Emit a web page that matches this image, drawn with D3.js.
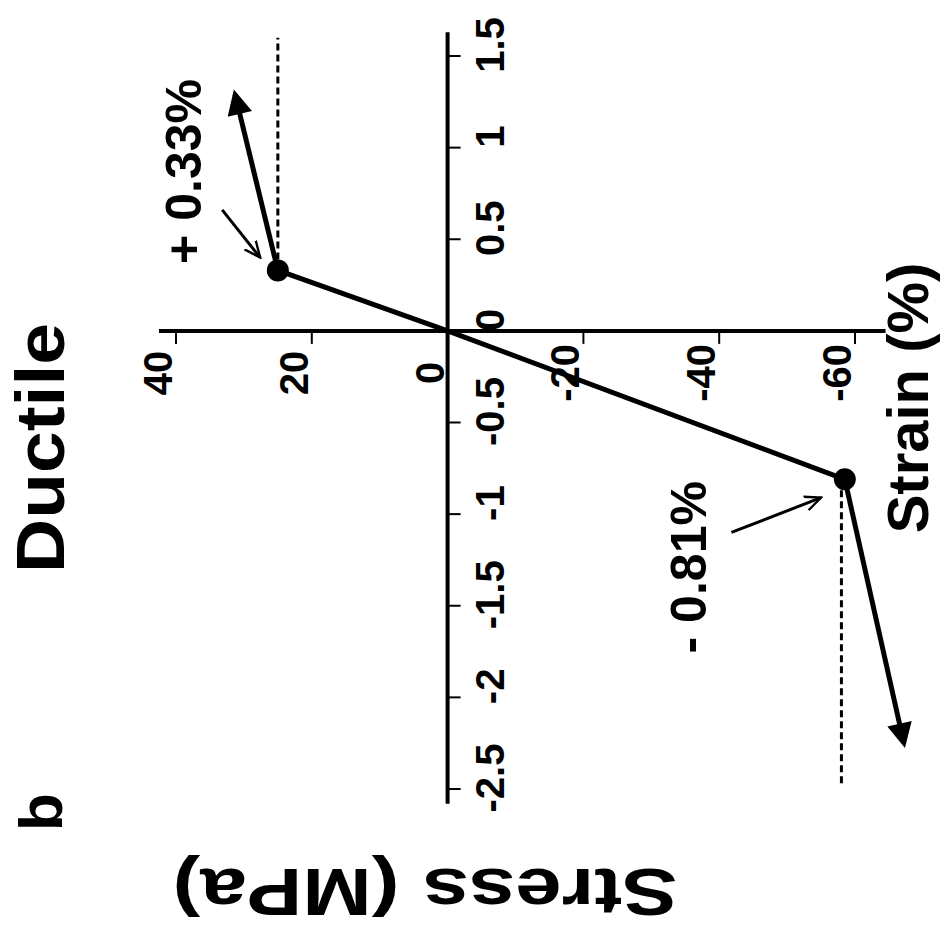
<!DOCTYPE html>
<html>
<head>
<meta charset="utf-8">
<script src="https://cdn.jsdelivr.net/npm/d3@7"></script>
<style>
body {margin: 0; background: #fff;}
svg text {font-family: "Liberation Sans", Arial, sans-serif; font-weight: bold; fill: #000;}
</style>
</head>
<body>
<div id="plot"></div>
<script>
//data - figure is drawn rotated, strain runs up the page, stress runs right-to-left
var strainTicks = [-2.5, -2, -1.5, -1, -0.5, 0, 0.5, 1, 1.5];
var stressTicks = [40, 20, 0, -20, -40, -60];
var lineStress = [25, 0, -58.5];
var lineStrain = [0.33, 0, -0.81];
var arrowUp = {stress: [25, 31.3], strain: [0.33, 1.29]};
var arrowDown = {stress: [-58.5, -67.2], strain: [-0.81, -2.25]};
var dashUp = {stress: [25, 25], strain: [0.33, 1.6]};
var dashDown = {stress: [-58, -58], strain: [-0.81, -2.48]};
var notes = [
    {label: "+ 0.33%", stress: 38.8, strain: 0.87, from: [33.2, 0.66], to: [27.6, 0.40]},
    {label: "- 0.81%", stress: -35.6, strain: -1.29, from: [-41.8, -1.10], to: [-55.0, -0.91]}
];

var W = 945, H = 940;
var svg = d3.select('#plot')
    .append('svg')
    .attr('width', W)
    .attr('height', H);

//scales
var scaleX = d3.scaleLinear().domain([40, -60]).range([176, 855]);   // stress
var scaleY = d3.scaleLinear().domain([-2.5, 1.5]).range([789, 56]);  // strain

var defs = svg.append('defs');
defs.append('marker')
    .attr('id', 'head')
    .attr('viewBox', '0 0 10 10')
    .attr('refX', 8).attr('refY', 5)
    .attr('markerWidth', 5.5).attr('markerHeight', 5)
    .attr('markerUnits', 'strokeWidth')
    .attr('orient', 'auto')
    .append('path')
    .attr('d', 'M0,0 L10,5 L0,10 z')
    .attr('fill', '#000');
defs.append('marker')
    .attr('id', 'open')
    .attr('viewBox', '0 0 10 10')
    .attr('refX', 9).attr('refY', 5)
    .attr('markerWidth', 6).attr('markerHeight', 6)
    .attr('markerUnits', 'strokeWidth')
    .attr('orient', 'auto')
    .append('path')
    .attr('d', 'M0,1 L9,5 L0,9')
    .attr('fill', 'none')
    .attr('stroke', '#000')
    .attr('stroke-width', 1.3);

//axes - strain axis vertical at stress = 0, stress axis horizontal at strain = 0
var axisStrain = svg.append('g').attr('class', 'axis-strain');
axisStrain.append('line')
    .attr('x1', scaleX(0)).attr('x2', scaleX(0))
    .attr('y1', scaleY(1.63)).attr('y2', scaleY(-2.58))
    .attr('stroke', '#000').attr('stroke-width', 4);
axisStrain.selectAll('.tick')
    .data(strainTicks)
    .enter()
    .append('line')
    .attr('class', 'tick')
    .attr('x1', scaleX(0)).attr('x2', scaleX(0) + 13)
    .attr('y1', function(d) { return scaleY(d); })
    .attr('y2', function(d) { return scaleY(d); })
    .attr('stroke', '#000').attr('stroke-width', 2);
axisStrain.selectAll('.lab')
    .data(strainTicks)
    .enter()
    .append('text')
    .attr('class', 'lab')
    .attr('transform', function(d) { return 'translate(' + (scaleX(0) + 42) + ',' + (scaleY(d) - 11) + ') rotate(-90)'; })
    .attr('text-anchor', 'middle')
    .attr('dominant-baseline', 'central')
    .style('font-size', '40px')
    .text(function(d) { return d; });

var axisStress = svg.append('g').attr('class', 'axis-stress');
axisStress.append('line')
    .attr('x1', scaleX(42.5)).attr('x2', scaleX(-64.5))
    .attr('y1', scaleY(0)).attr('y2', scaleY(0))
    .attr('stroke', '#000').attr('stroke-width', 4);
axisStress.selectAll('.tick')
    .data(stressTicks.filter(function(d) { return d !== 0; }))
    .enter()
    .append('line')
    .attr('class', 'tick')
    .attr('x1', function(d) { return scaleX(d); })
    .attr('x2', function(d) { return scaleX(d); })
    .attr('y1', scaleY(0)).attr('y2', scaleY(0) + 13)
    .attr('stroke', '#000').attr('stroke-width', 2);
axisStress.selectAll('.lab')
    .data(stressTicks)
    .enter()
    .append('text')
    .attr('class', 'lab')
    .attr('transform', function(d) { return 'translate(' + (scaleX(d) - 18) + ',' + (scaleY(0) + 42) + ') rotate(-90)'; })
    .attr('text-anchor', 'middle')
    .attr('dominant-baseline', 'central')
    .style('font-size', '40px')
    .text(function(d) { return d; });

//dashed guides
var guide = d3.line()
    .x(function(d) { return scaleX(d[0]); })
    .y(function(d) { return scaleY(d[1]); });
[dashUp, dashDown].forEach(function(g) {
    svg.append('path')
        .datum(d3.zip(g.stress, g.strain))
        .attr('d', guide)
        .attr('fill', 'none')
        .attr('stroke', '#000')
        .attr('stroke-width', 3)
        .attr('stroke-dasharray', '7,4');
});

//main line
svg.append('path')
    .datum(d3.zip(lineStress, lineStrain))
    .attr('d', guide)
    .attr('fill', 'none')
    .attr('stroke', '#000')
    .attr('stroke-width', 5);

//arrows after yield
[arrowUp, arrowDown].forEach(function(a) {
    svg.append('path')
        .datum(d3.zip(a.stress, a.strain))
        .attr('d', guide)
        .attr('fill', 'none')
        .attr('stroke', '#000')
        .attr('stroke-width', 5)
        .attr('marker-end', 'url(#head)');
});

//yield dots
svg.selectAll('.dot')
    .data([0, 2])
    .enter()
    .append('circle')
    .attr('class', 'dot')
    .attr('cx', function(i) { return scaleX(lineStress[i]); })
    .attr('cy', function(i) { return scaleY(lineStrain[i]); })
    .attr('r', 11)
    .attr('fill', '#000');

//annotations
notes.forEach(function(n) {
    svg.append('path')
        .datum([n.from, n.to])
        .attr('d', guide)
        .attr('fill', 'none')
        .attr('stroke', '#000')
        .attr('stroke-width', 3)
        .attr('marker-end', 'url(#open)');
    svg.append('text')
        .attr('transform', 'translate(' + scaleX(n.stress) + ',' + scaleY(n.strain) + ') rotate(-90)')
        .attr('text-anchor', 'middle')
        .attr('dominant-baseline', 'central')
        .style('font-size', '50px')
        .text(n.label);
});

//titles
svg.append('text')
    .attr('transform', 'translate(40,448) rotate(-90)')
    .attr('text-anchor', 'middle')
    .attr('dominant-baseline', 'central')
    .style('font-size', '68px')
    .attr('textLength', 250)
    .attr('lengthAdjust', 'spacingAndGlyphs')
    .text('Ductile');
svg.append('text')
    .attr('transform', 'translate(40,812) rotate(-90)')
    .attr('text-anchor', 'middle')
    .attr('dominant-baseline', 'central')
    .style('font-size', '62px')
    .text('b');
svg.append('text')
    .attr('transform', 'translate(907,398) rotate(-90)')
    .attr('text-anchor', 'middle')
    .attr('dominant-baseline', 'central')
    .style('font-size', '58px')
    .text('Strain (%)');
svg.append('text')
    .attr('transform', 'translate(425,892) rotate(180)')
    .attr('text-anchor', 'middle')
    .attr('dominant-baseline', 'central')
    .style('font-size', '66px')
    .attr('textLength', 505)
    .attr('lengthAdjust', 'spacingAndGlyphs')
    .text('Stress (MPa)');
</script>
</body>
</html>
